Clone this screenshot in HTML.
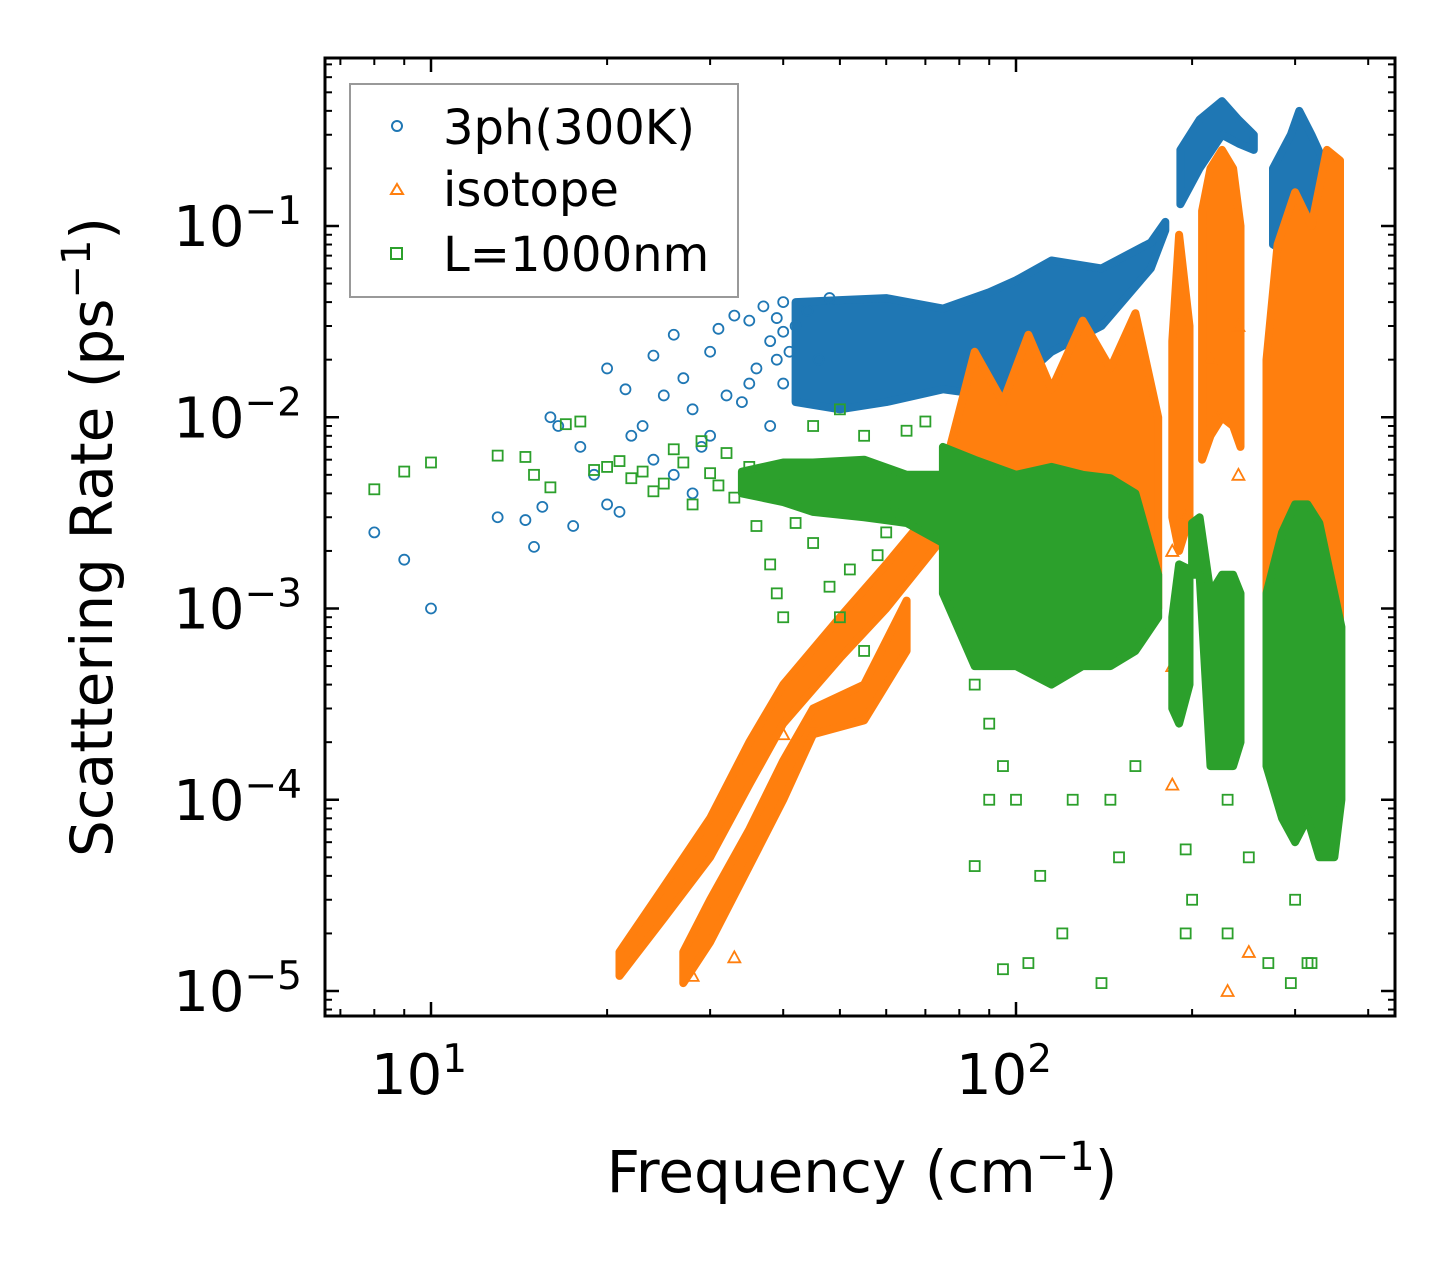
<!DOCTYPE html>
<html><head><meta charset="utf-8"><style>
html,body{margin:0;padding:0;background:#fff;}
svg{display:block;font-family:"DejaVu Sans","Liberation Sans",sans-serif;}
</style></head><body>
<svg id="chart" width="1455" height="1265" viewBox="0 0 1455 1265" xmlns="http://www.w3.org/2000/svg">
<defs><clipPath id="plotclip"><rect x="325" y="58" width="1070" height="958"/></clipPath></defs>
<g id="marks" clip-path="url(#plotclip)"></g>
<g id="axes"></g>
<g>
<rect x="350" y="84" width="388" height="213" fill="#fff" stroke="#999" stroke-width="2"/>
<circle cx="397" cy="126" r="5" fill="none" stroke="#1f77b4" stroke-width="2"/>
<text x="443" y="144" font-size="48">3ph(300K)</text>
<polygon points="397,184 403,194 391,194" fill="none" stroke="#ff7f0e" stroke-width="2"/>
<text x="443" y="206" font-size="48">isotope</text>
<rect x="391" y="248" width="11" height="11" fill="none" stroke="#2ca02c" stroke-width="2"/>
<text x="443" y="271" font-size="48">L=1000nm</text>
</g>
<text x="862" y="1192" font-size="58" text-anchor="middle">Frequency (cm<tspan dy="-22" font-size="40">−1</tspan><tspan dy="22">)</tspan></text>
<text transform="translate(112,537) rotate(-90)" font-size="58" text-anchor="middle">Scattering Rate (ps<tspan dy="-22" font-size="40">−1</tspan><tspan dy="22">)</tspan></text>
</svg>
<script>
// ---- data ----
const blueBandF = [42, 50, 60, 75, 90, 100, 115, 140, 170, 180];
const blueBandHi = [0.040, 0.041, 0.042, 0.037, 0.045, 0.052, 0.066, 0.060, 0.082, 0.105];
const blueBandLo = [0.012, 0.011, 0.012, 0.014, 0.013, 0.015, 0.022, 0.030, 0.060, 0.095];
const blueBand2F = [191, 206, 225, 240, 255];
const blueBand2Hi = [0.25, 0.36, 0.45, 0.36, 0.30];
const blueBand2Lo = [0.13, 0.20, 0.30, 0.27, 0.25];
const blueBand3F = [275, 295, 305, 320, 340, 355];
const blueBand3Hi = [0.20, 0.30, 0.40, 0.30, 0.20, 0.15];
const blueBand3Lo = [0.08, 0.07, 0.06, 0.07, 0.09, 0.10];
const blueF = [8.0,9.0,10.0,13,14.5,15.0,15.5,16,16.5,17.5,18,19,20,20,21,21.5,22,23,24,25,26,27,28,29,30,31,32,33,34,35,36,37,38,39,40,40,42,44,46,48,35,38,30,26,24,28,40,41,39];
const blueR = [0.0025,0.0018,0.001,0.003,0.0029,0.0021,0.0034,0.01,0.009,0.0027,0.007,0.005,0.0035,0.018,0.0032,0.014,0.008,0.009,0.021,0.013,0.027,0.016,0.011,0.007,0.022,0.029,0.013,0.034,0.012,0.032,0.018,0.038,0.025,0.02,0.04,0.015,0.03,0.036,0.02,0.042,0.015,0.009,0.008,0.005,0.006,0.004,0.028,0.022,0.033];

const orUpF = [21, 25, 30, 35, 40, 50, 60, 70, 80];
const orUpHi = [1.6e-5, 3.5e-5, 8e-5, 2e-4, 4e-4, 9e-4, 1.7e-3, 3e-3, 7e-3];
const orUpLo = [1.2e-5, 2.4e-5, 5e-5, 1.2e-4, 2.5e-4, 5.5e-4, 1.0e-3, 1.8e-3, 3e-3];
const orLowF = [27, 30, 35, 40, 45, 55, 65];
const orLowHi = [1.6e-5, 3e-5, 7e-5, 1.6e-4, 3e-4, 4e-4, 1.1e-3];
const orLowLo = [1.1e-5, 1.8e-5, 4.5e-5, 1.0e-4, 2.2e-4, 2.6e-4, 6e-4];
const orMainF = [75, 85, 95, 105, 115, 130, 145, 160, 175];
const orMainHi = [0.005, 0.022, 0.012, 0.027, 0.014, 0.032, 0.018, 0.035, 0.010];
const orMainLo = [0.002, 0.002, 0.002, 0.002, 0.002, 0.002, 0.002, 0.002, 0.001];
const orCol1F = [185, 190, 198];
const orCol1Hi = [0.025, 0.09, 0.03];
const orCol1Lo = [0.003, 0.002, 0.003];
const orCol2F = [208, 215, 225, 235, 242];
const orCol2Hi = [0.12, 0.20, 0.25, 0.20, 0.10];
const orCol2Lo = [0.006, 0.008, 0.01, 0.009, 0.007];
const orCol3F = [268, 280, 300, 320, 340, 358];
const orCol3Hi = [0.02, 0.08, 0.15, 0.10, 0.25, 0.22];
const orCol3Lo = [3e-4, 4e-4, 1e-3, 1e-3, 3e-4, 2e-4];
const orF = [230,250,185,185,195,215,220,240,240,185,340,345,40,45,28,33];
const orR = [1e-5,1.6e-5,1.2e-4,5e-4,0.003,0.02,0.01,0.03,0.005,0.002,0.001,2e-4,2.2e-4,2.5e-4,1.2e-5,1.5e-5];

const grMainF = [75, 85, 100, 115, 130, 145, 160, 175];
const grMainHi = [0.007, 0.006, 0.005, 0.0055, 0.005, 0.0048, 0.004, 0.0015];
const grMainLo = [0.0012, 0.0005, 0.0005, 0.0004, 0.0005, 0.0005, 0.0006, 0.0009];
const grColAF = [185, 190, 198];
const grColAHi = [0.0009, 0.0017, 0.0016];
const grColALo = [3e-4, 2.5e-4, 4e-4];
const grColBF = [200, 206, 215, 225, 235, 242];
const grColBHi = [0.0028, 0.003, 0.0012, 0.0015, 0.0015, 0.0012];
const grColBLo = [0.0015, 0.0015, 1.5e-4, 1.5e-4, 1.5e-4, 2e-4];
const grColCF = [268, 285, 300, 315, 330, 350, 360];
const grColCHi = [0.0012, 0.0025, 0.0035, 0.0035, 0.0028, 0.0012, 0.0008];
const grColCLo = [1.5e-4, 8e-5, 6e-5, 8e-5, 5e-5, 5e-5, 1e-4];
const grLeftF = [34, 40, 45, 55, 65, 75];
const grLeftHi = [0.0052, 0.0058, 0.0058, 0.006, 0.005, 0.005];
const grLeftLo = [0.0040, 0.0036, 0.0032, 0.003, 0.0028, 0.0022];
const greenF = [8.0,9.0,10.0,13,14.5,15,16,17,18,19,20,21,22,23,24,25,26,27,28,29,30,31,32,33,35,36,38,39,40,42,45,48,50,52,55,58,60,45,50,55,65,70,85,90,95,100,90,85,95,105,110,120,125,140,150,145,160,195,200,230,195,250,270,295,315,320,230,300,40,44,36,62,68];
const greenR = [0.0042,0.0052,0.0058,0.0063,0.0062,0.005,0.0043,0.0092,0.0095,0.0053,0.0055,0.0059,0.0048,0.0052,0.0041,0.0045,0.0068,0.0058,0.0035,0.0075,0.0051,0.0044,0.0065,0.0038,0.0055,0.0027,0.0017,0.0012,0.0009,0.0028,0.0022,0.0013,0.0009,0.0016,0.0006,0.0019,0.0025,0.009,0.011,0.008,0.0085,0.0095,0.0004,0.00025,0.00015,0.0001,0.0001,4.5e-5,1.3e-5,1.4e-5,4e-5,2e-5,1e-4,1.1e-5,5e-5,1e-4,1.5e-4,5.5e-5,3e-5,2e-5,2e-5,5e-5,1.4e-5,1.1e-5,1.4e-5,1.4e-5,1e-4,3e-5,0.0045,0.0038,0.0042,0.0035,0.003];

const xMajor = [10, 100];
const xMajorLabels = ["1", "2"];
const yMajor = [1e-1, 1e-2, 1e-3, 1e-4, 1e-5];
const yMajorLabels = ["−1", "−2", "−3", "−4", "−5"];

// ---- scales ----
const X0 = 325, X1 = 1395, Y0 = 58, Y1 = 1016;
function xs(f){ return 431 + (Math.log10(f) - 1) * 585; }
function ys(r){ return 226 - (Math.log10(r) + 1) * 191.25; }
const NS = "http://www.w3.org/2000/svg";
const marks = document.getElementById('marks');
const axes = document.getElementById('axes');
function mk(tag, attrs, parent){
  const e = document.createElementNS(NS, tag);
  for (const k in attrs) e.setAttribute(k, attrs[k]);
  parent.appendChild(e);
  return e;
}
const COL = {blue:'#1f77b4', orange:'#ff7f0e', green:'#2ca02c'};
function band(F, Hi, Lo, color, name){
  const pts = [];
  for (let i=0;i<F.length;i++) pts.push(xs(F[i]).toFixed(1)+','+ys(Hi[i]).toFixed(1));
  for (let i=F.length-1;i>=0;i--) pts.push(xs(F[i]).toFixed(1)+','+ys(Lo[i]).toFixed(1));
  const p = mk('polygon', {points: pts.join(' '), fill: color, stroke: color, 'stroke-width': 8, 'stroke-linejoin':'round'}, marks);
  
  
}
function circles(F, R){
  for (let i=0;i<F.length;i++){
    const c = mk('circle', {cx: xs(F[i]), cy: ys(R[i]), r: 5, fill:'none', stroke: COL.blue, 'stroke-width': 1.8}, marks);
    
    
  }
}
function tris(F, R){
  for (let i=0;i<F.length;i++){
    const x = xs(F[i]), y = ys(R[i]);
    const t = mk('polygon', {points: x+','+(y-6)+' '+(x+6)+','+(y+5)+' '+(x-6)+','+(y+5), fill:'none', stroke: COL.orange, 'stroke-width': 1.8}, marks);
    
    
  }
}
function squares(F, R){
  for (let i=0;i<F.length;i++){
    const s = mk('rect', {x: xs(F[i])-5, y: ys(R[i])-5, width: 10, height: 10, fill:'none', stroke: COL.green, 'stroke-width': 1.8}, marks);
    
    
  }
}
band(blueBandF, blueBandHi, blueBandLo, COL.blue, '3ph-dense-band');
band(blueBand2F, blueBand2Hi, blueBand2Lo, COL.blue, '3ph-dense-band-2');
band(blueBand3F, blueBand3Hi, blueBand3Lo, COL.blue, '3ph-dense-band-3');
circles(blueF, blueR);
band(orUpF, orUpHi, orUpLo, COL.orange, 'isotope-upper-branch');
band(orLowF, orLowHi, orLowLo, COL.orange, 'isotope-lower-branch');
band(orMainF, orMainHi, orMainLo, COL.orange, 'isotope-main-band');
band(orCol1F, orCol1Hi, orCol1Lo, COL.orange, 'isotope-column-1');
band(orCol2F, orCol2Hi, orCol2Lo, COL.orange, 'isotope-column-2');
band(orCol3F, orCol3Hi, orCol3Lo, COL.orange, 'isotope-column-3');
tris(orF, orR);
band(grLeftF, grLeftHi, grLeftLo, COL.green, 'boundary-left-band');
band(grMainF, grMainHi, grMainLo, COL.green, 'boundary-main-band');
band(grColAF, grColAHi, grColALo, COL.green, 'boundary-column-1');
band(grColBF, grColBHi, grColBLo, COL.green, 'boundary-column-2');
band(grColCF, grColCHi, grColCLo, COL.green, 'boundary-column-3');
squares(greenF, greenR);

// ---- axes ----
const frame = mk('rect', {x: X0, y: Y0, width: X1-X0, height: Y1-Y0, fill:'none', stroke:'#000', 'stroke-width': 3}, axes);


function tickLine(x1,y1,x2,y2,w){ const l = mk('line',{x1,y1,x2,y2,stroke:'#000','stroke-width':w}, axes);
    }
for (let d=0; d<3; d++){
  for (let m=1; m<10; m++){
    const v = m*Math.pow(10,d); const x = xs(v);
    if (x < X0 || x > X1) continue;
    const L = (m===1) ? 14 : 7, w = (m===1) ? 2.5 : 2;
    tickLine(x, Y1, x, Y1-L, w); tickLine(x, Y0, x, Y0+L, w);
  }
}
for (let d=-6; d<0; d++){
  for (let m=1; m<10; m++){
    const v = m*Math.pow(10,d); const y = ys(v);
    if (y < Y0 || y > Y1) continue;
    const L = (m===1) ? 14 : 7, w = (m===1) ? 2.5 : 2;
    tickLine(X0, y, X0+L, y, w); tickLine(X1, y, X1-L, y, w);
  }
}
const svgRoot = document.getElementById('chart');
xMajor.forEach((v,i)=>{
  const t = mk('text', {x: xs(v)-12, y: 1094, 'font-size': 56, 'text-anchor':'middle'}, svgRoot);
  
  
  t.innerHTML = '10<tspan dy="-22" font-size="39">'+xMajorLabels[i]+'</tspan>';
});
yMajor.forEach((v,i)=>{
  const t = mk('text', {x: 302, y: ys(v)+20, 'font-size': 56, 'text-anchor':'end'}, svgRoot);
  
  
  t.innerHTML = '10<tspan dy="-22" font-size="39">'+yMajorLabels[i]+'</tspan>';
});
</script>
</body></html>
